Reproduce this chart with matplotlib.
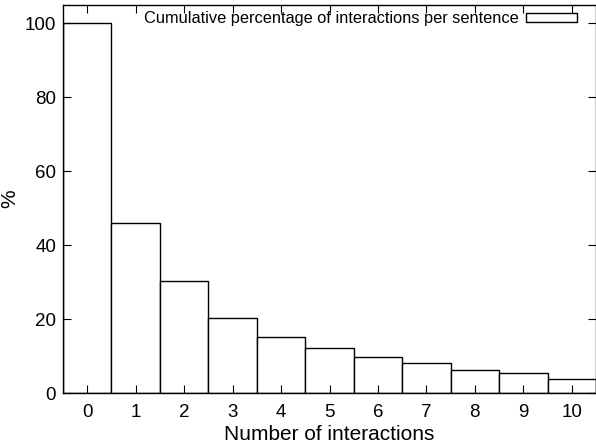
import matplotlib.pyplot as plt

plt.rcParams['font.family'] = ['Liberation Sans', 'DejaVu Sans']

interactions = [0, 1, 2, 3, 4, 5, 6, 7, 8, 9, 10]
cumulative_pct = [100, 45.9, 30.4, 20.4, 15.2, 12.1, 9.8, 8.0, 6.2, 5.4, 3.9]
tick_labels = ['0', '1', '2', '3', '4', '5', '6', '7', '8', '9', '10']

fig = plt.figure(figsize=(5.96, 4.45), dpi=100)
ax = fig.add_axes([63 / 596, 52 / 445, 533 / 596, 388 / 445])

ax.bar(interactions, cumulative_pct, width=1.0, color='white', edgecolor='black',
       linewidth=1.0, label='Cumulative percentage of interactions per sentence')

ax.set_xlim(-0.5, 10.5)
ax.set_ylim(0, 104.9)
ax.set_xticks(interactions)
ax.set_xticklabels(tick_labels)
ax.set_yticks([0, 20, 40, 60, 80, 100])
ax.tick_params(direction='in', top=True, right=True, length=6, width=0.8,
               labelsize=13.5)
ax.tick_params(axis='x', pad=8)
ax.tick_params(axis='y', pad=5)
for s in ax.spines.values():
    s.set_linewidth(1.0)

ax.set_xlabel('Number of interactions', fontsize=15, labelpad=3)
ax.set_ylabel('%', fontsize=15)
# keep the % inside the figure, gnuplot-style
ax.yaxis.set_label_coords(-44 / 533, 0.5)

leg = ax.legend(loc='upper right', frameon=False, fontsize=11.8,
                handlelength=3.1, handleheight=0.45, handletextpad=0.45,
                borderaxespad=0.0, borderpad=0.25, markerfirst=False,
                bbox_to_anchor=(0.972, 0.995))

fig.savefig('out.png', dpi=100)
